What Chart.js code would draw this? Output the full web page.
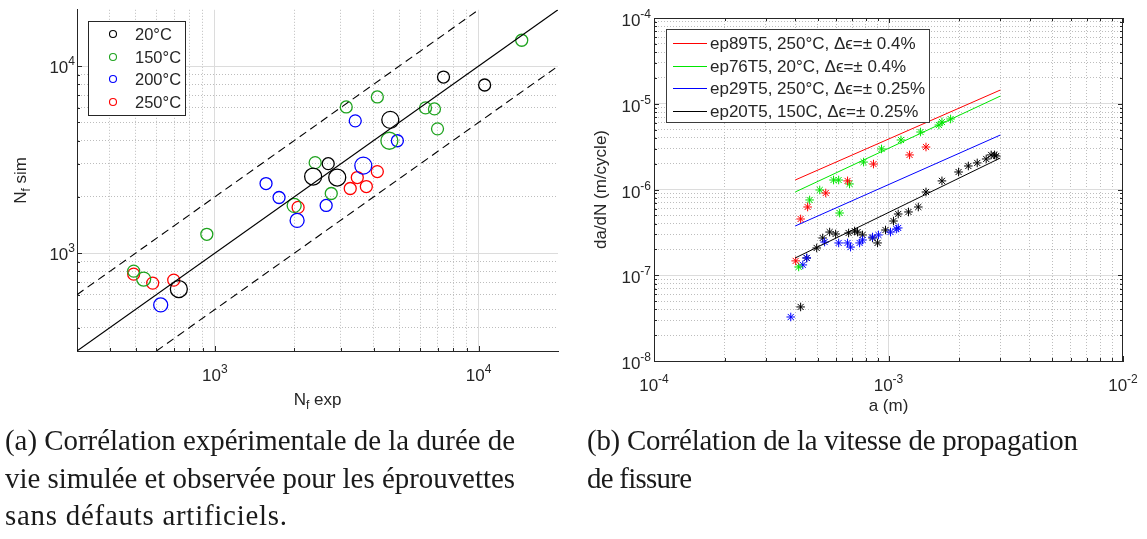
<!DOCTYPE html>
<html><head><meta charset="utf-8">
<script src="https://cdn.jsdelivr.net/npm/chart.js@4/dist/chart.umd.min.js"></script>
<style>
html,body{margin:0;padding:0;background:#fff;}
#wrap{position:relative;width:1147px;height:539px;overflow:hidden;background:#fff;}
canvas{position:absolute;left:0;top:0;}
.cap{position:absolute;font-family:"Liberation Serif","DejaVu Serif",serif;color:#1a1a1a;white-space:nowrap;line-height:1;}
</style></head><body>
<div id="wrap">
<canvas id="c1" width="1147" height="539"></canvas>
<canvas id="c2" width="1147" height="539"></canvas>
<div class="cap" data-x="5" data-base="452" data-w="510">(a) Corrélation expérimentale de la durée de</div>
<div class="cap" data-x="5" data-base="490" data-w="510">vie simulée et observée pour les éprouvettes</div>
<div class="cap" data-x="5" data-base="527" data-w="282">sans défauts artificiels.</div>
<div class="cap" data-x="587" data-base="452" data-w="491">(b) Corrélation de la vitesse de propagation</div>
<div class="cap" data-x="587" data-base="490" data-w="105">de fissure</div>
</div>
<script>
// ---------------- Panel (a) data: N_f exp vs N_f sim ----------------
const T20_exp  = [7360, 10540, 4625, 2690, 2358, 2910, 730];
const T20_sim  = [8740, 7925, 5160, 3010, 2569, 2537, 643];
const T150_exp = [14570, 4130, 3148, 6290, 6800, 6985, 4588, 2400, 2762, 1998, 932, 492, 537];
const T150_sim = [13750, 6840, 6050, 5980, 5905, 4620, 3990, 3048, 2085, 1800, 1262, 802, 727];
const T200_exp = [1563, 1751, 3406, 4920, 3654, 2050, 2642, 623];
const T200_sim = [2357, 1985, 5097, 3990, 2939, 1497, 1800, 529];
const T250_exp = [4130, 3467, 3752, 3260, 2068, 492, 581, 698];
const T250_sim = [2730, 2537, 2271, 2217, 1757, 773, 692, 718];
// reference lines (y = x, y = 2x, y = x/2)
const refMid_x = [300, 20000],  refMid_y = [300, 20000];
const refUp_x  = [300, 10000],  refUp_y  = [600, 20000];
const refLow_x = [600, 20000],  refLow_y = [300, 10000];
const A_X_TICKS = [400,500,600,700,800,900,1000,2000,3000,4000,5000,6000,7000,8000,9000,10000];
const A_Y_TICKS = [400,500,600,700,800,900,1000,2000,3000,4000,5000,6000,7000,8000,9000,10000];
const A_X_LABEL_VALUES = [1000, 10000], A_X_LABEL_EXPS = ['3','4'];
const A_Y_LABEL_VALUES = [1000, 10000], A_Y_LABEL_EXPS = ['3','4'];
const A_LEGEND = ['20°C','150°C','200°C','250°C'];

// ---------------- Panel (b) data: da/dN vs a ----------------
const ep89_a    = [4.02e-4, 4.22e-4, 4.52e-4, 5.40e-4, 6.69e-4, 8.63e-4, 1.23e-3, 1.445e-3];
const ep89_dadN = [1.47e-7, 4.53e-7, 6.25e-7, 9.10e-7, 1.26e-6, 1.98e-6, 2.53e-6, 3.13e-6];
const ep76_a    = [4.14e-4, 4.61e-4, 5.09e-4, 5.83e-4, 6.13e-4, 6.82e-4, 6.19e-4, 7.83e-4, 9.34e-4, 1.13e-3, 1.37e-3, 1.64e-3, 1.69e-3, 1.84e-3];
const ep76_dadN = [1.25e-7, 7.55e-7, 9.87e-7, 1.29e-6, 1.29e-6, 1.16e-6, 5.32e-7, 2.09e-6, 2.97e-6, 3.78e-6, 4.68e-6, 5.65e-6, 6.13e-6, 6.64e-6];
const ep29_a    = [3.83e-4, 4.31e-4, 4.48e-4, 5.34e-4, 6.13e-4, 6.69e-4, 6.89e-4, 7.53e-4, 7.75e-4, 8.55e-4, 9.06e-4, 1.02e-3, 1.08e-3, 1.10e-3];
const ep29_dadN = [3.26e-8, 1.32e-7, 1.59e-7, 2.44e-7, 2.38e-7, 2.38e-7, 2.13e-7, 2.38e-7, 2.58e-7, 2.79e-7, 2.95e-7, 3.19e-7, 3.46e-7, 3.56e-7];
const ep20_a    = [4.22e-4, 4.48e-4, 4.94e-4, 5.24e-4, 5.61e-4, 5.95e-4, 6.76e-4, 7.17e-4, 7.38e-4, 7.75e-4, 8.55e-4, 8.98e-4, 9.71e-4, 1.05e-3, 1.10e-3, 1.217e-3, 1.34e-3, 1.445e-3, 1.69e-3, 1.99e-3, 2.19e-3, 2.39e-3, 2.61e-3, 2.74e-3, 2.83e-3, 2.88e-3];
const ep20_dadN = [4.27e-8, 1.59e-7, 2.08e-7, 2.72e-7, 3.19e-7, 3.03e-7, 3.11e-7, 3.28e-7, 3.19e-7, 2.95e-7, 2.72e-7, 2.38e-7, 3.37e-7, 4.29e-7, 5.18e-7, 5.47e-7, 6.25e-7, 9.35e-7, 1.26e-6, 1.60e-6, 1.88e-6, 2.04e-6, 2.27e-6, 2.53e-6, 2.53e-6, 2.46e-6];
// fitted lines (end points)
const fit_a       = [4e-4, 3e-3];
const fit89_dadN  = [1.29e-6, 1.446e-5];
const fit76_dadN  = [9.35e-7, 1.23e-5];
const fit29_dadN  = [3.75e-7, 4.32e-6];
const fit20_dadN  = [1.59e-7, 2.33e-6];
const B_X_TICKS = [2e-4,3e-4,4e-4,5e-4,6e-4,7e-4,8e-4,9e-4,1e-3,2e-3,3e-3,4e-3,5e-3,6e-3,7e-3,8e-3,9e-3];
const B_Y_TICKS = [2e-8,3e-8,4e-8,5e-8,6e-8,7e-8,8e-8,9e-8,1e-7,2e-7,3e-7,4e-7,5e-7,6e-7,7e-7,8e-7,9e-7,1e-6,2e-6,3e-6,4e-6,5e-6,6e-6,7e-6,8e-6,9e-6,1e-5,2e-5,3e-5,4e-5,5e-5,6e-5,7e-5,8e-5,9e-5];
const B_X_LABEL_VALUES = [1e-4, 1e-3, 1e-2], B_X_LABEL_EXPS = ['-4','-3','-2'];
const B_Y_LABEL_VALUES = [1e-8, 1e-7, 1e-6, 1e-5, 1e-4], B_Y_LABEL_EXPS = ['-8','-7','-6','-5','-4'];
const B_LEGEND = ['ep89T5, 250°C, Δϵ=± 0.4%','ep76T5, 20°C, Δϵ=± 0.4%','ep29T5, 250°C, Δϵ=± 0.25%','ep20T5, 150C, Δϵ=± 0.25%'];

// ---------------- styles ----------------
const SANS = '"Liberation Sans", Arial, Helvetica, sans-serif';
const AX = '#262626';
const GRID_MAJOR = '#dcdcdc', GRID_MINOR = '#bdbdbd';
const A_COLORS = ['#000000', '#1fa31f', '#0000ff', '#ff0000'];
const B_COLORS = ['#ff0000', '#00e600', '#0000ff', '#000000'];
const RS = 6, RL = 8.5, RM = 7;
const R20  = [RS, RS, RL, RS, RL, RL, RL];
const R150 = [RS, RS, RS, RS, RS, RS, RL, RS, RS, RM, RS, RS, RM];
const R200 = [RS, RS, RS, RS, RL, RM, RS, RM];
const R250 = [RS, RS, RS, RS, RS, RS, RS, RS];

const pts = (xs, ys) => xs.map((x, i) => ({x, y: ys[i]}));
const isPow10 = v => Math.abs(Math.log10(v) - Math.round(Math.log10(v))) < 1e-6;

function logScale(min, max, ticks, pos) {
  return {
    type: 'logarithmic', min, max, position: pos,
    afterBuildTicks: s => { s.ticks = ticks.map(v => ({value: v, major: isPow10(v)})); },
    ticks: {display: false},
    grid: {
      drawTicks: false,
      lineWidth: 1,
      color: c => (c.tick && isPow10(c.tick.value)) ? GRID_MAJOR : GRID_MINOR
    },
    border: {
      display: true, color: AX, width: 1,
      dash: c => (c.type === 'tick' && c.tick && !isPow10(c.tick.value)) ? [1, 2] : []
    }
  };
}

function drawPow(ctx, exp, x, y, align, fs) {
  fs = fs || 17;
  const fsS = Math.round(fs * 0.7);
  ctx.save();
  ctx.fillStyle = AX; ctx.textBaseline = 'alphabetic'; ctx.textAlign = 'left';
  ctx.font = fs + 'px ' + SANS; const wb = ctx.measureText('10').width;
  ctx.font = fsS + 'px ' + SANS; const we = ctx.measureText(exp).width;
  const x0 = align === 'center' ? x - (wb + we) / 2 : x - (wb + we);
  ctx.font = fs + 'px ' + SANS; ctx.fillText('10', x0, y);
  ctx.font = fsS + 'px ' + SANS; ctx.fillText(exp, x0 + wb, y - 8);
  ctx.restore();
}

function drawTickMarks(ctx, chart, xs, xLab, ys, yLab, box) {
  const xa = chart.scales.x, ya = chart.scales.y, ca = chart.chartArea;
  ctx.save(); ctx.strokeStyle = AX; ctx.lineWidth = 1;
  ctx.beginPath();
  const allX = xs.concat(xLab), allY = ys.concat(yLab);
  allX.forEach(v => {
    const p = Math.round(xa.getPixelForValue(v)) + 0.5;
    const L = isPow10(v) ? 5 : 3;
    ctx.moveTo(p, ca.bottom); ctx.lineTo(p, ca.bottom - L);
    if (box) { ctx.moveTo(p, ca.top); ctx.lineTo(p, ca.top + L); }
  });
  allY.forEach(v => {
    const p = Math.round(ya.getPixelForValue(v)) + 0.5;
    const L = isPow10(v) ? 5 : 3;
    ctx.moveTo(ca.left, p); ctx.lineTo(ca.left + L, p);
    if (box) { ctx.moveTo(ca.right, p); ctx.lineTo(ca.right - L, p); }
  });
  ctx.stroke();
  if (box) {
    ctx.beginPath();
    ctx.moveTo(ca.left, Math.round(ca.top) + 0.5); ctx.lineTo(ca.right, Math.round(ca.top) + 0.5);
    ctx.moveTo(Math.round(ca.right) - 0.5, ca.top); ctx.lineTo(Math.round(ca.right) - 0.5, ca.bottom);
    ctx.stroke();
  }
  ctx.restore();
}

function drawSubLabel(ctx, parts, cx, cy, rotate) {
  ctx.save(); ctx.fillStyle = AX; ctx.textBaseline = 'alphabetic'; ctx.textAlign = 'left';
  ctx.translate(cx, cy); if (rotate) ctx.rotate(-Math.PI / 2);
  let w = 0;
  parts.forEach(p => { ctx.font = p[1] + 'px ' + SANS; w += ctx.measureText(p[0]).width; });
  let x = -w / 2;
  parts.forEach(p => { ctx.font = p[1] + 'px ' + SANS; ctx.fillText(p[0], x, p[2]); x += ctx.measureText(p[0]).width; });
  ctx.restore();
}

// ---------------- Chart (a) ----------------
const decorA = {
  id: 'decorA',
  afterDraw(chart) {
    const ctx = chart.ctx, xa = chart.scales.x, ya = chart.scales.y, ca = chart.chartArea;
    drawTickMarks(ctx, chart, A_X_TICKS, [], A_Y_TICKS, [], false);
    A_X_LABEL_VALUES.forEach((v, i) => drawPow(ctx, A_X_LABEL_EXPS[i], xa.getPixelForValue(v), ca.bottom + 30, 'center', 17));
    A_Y_LABEL_VALUES.forEach((v, i) => drawPow(ctx, A_Y_LABEL_EXPS[i], ca.left - 2, ya.getPixelForValue(v) + 7, 'right', 17));
    drawSubLabel(ctx, [['N', 17, 0], ['f', 12, 4], [' exp', 17, 0]], (ca.left + ca.right) / 2, 405, false);
    drawSubLabel(ctx, [['N', 17, 0], ['f', 12, 4], [' sim', 17, 0]], 26, (ca.top + ca.bottom) / 2, true);
    ctx.save();
    ctx.fillStyle = '#fff'; ctx.fillRect(88, 21, 98, 95);
    ctx.strokeStyle = AX; ctx.lineWidth = 1; ctx.strokeRect(88.5, 21.5, 97, 94);
    const rows = [34, 57, 79, 102];
    A_LEGEND.forEach((t, i) => {
      ctx.beginPath(); ctx.strokeStyle = A_COLORS[i]; ctx.lineWidth = 1.1;
      ctx.arc(113, rows[i], 3.5, 0, Math.PI * 2); ctx.stroke();
      ctx.fillStyle = AX; ctx.font = '16.5px ' + SANS; ctx.textBaseline = 'middle'; ctx.textAlign = 'left';
      ctx.fillText(t, 135, rows[i] + 1);
    });
    ctx.restore();
  }
};

const circ = (label, xs, ys, color, radii) => ({
  label, data: pts(xs, ys), pointStyle: 'circle', pointRadius: radii,
  pointBorderColor: color, pointBackgroundColor: 'rgba(0,0,0,0)', pointBorderWidth: 1.3, showLine: false
});
const lineDs = (xs, ys, color, dash, w) => ({
  data: pts(xs, ys), showLine: true, pointRadius: 0, borderColor: color, borderWidth: w, borderDash: dash, fill: false
});

new Chart(document.getElementById('c1'), {
  type: 'scatter',
  data: {datasets: [
    lineDs(refMid_x, refMid_y, '#000', [], 1.1),
    lineDs(refUp_x, refUp_y, '#000', [8, 5], 1.1),
    lineDs(refLow_x, refLow_y, '#000', [8, 5], 1.1),
    circ('20°C', T20_exp, T20_sim, A_COLORS[0], R20),
    circ('150°C', T150_exp, T150_sim, A_COLORS[1], R150),
    circ('200°C', T200_exp, T200_sim, A_COLORS[2], R200),
    circ('250°C', T250_exp, T250_sim, A_COLORS[3], R250)
  ]},
  options: {
    responsive: false, animation: false, events: [],
    layout: {padding: {left: 77, top: 9, right: 1147 - 558, bottom: 539 - 351}},
    plugins: {legend: {display: false}, tooltip: {enabled: false}},
    scales: {x: logScale(300, 20000, A_X_TICKS, 'bottom'), y: logScale(300, 20000, A_Y_TICKS, 'left')}
  },
  plugins: [decorA]
});

// ---------------- Chart (b) ----------------
const decorB = {
  id: 'decorB',
  afterDraw(chart) {
    const ctx = chart.ctx, xa = chart.scales.x, ya = chart.scales.y, ca = chart.chartArea;
    drawTickMarks(ctx, chart, B_X_TICKS, B_X_LABEL_VALUES, B_Y_TICKS, B_Y_LABEL_VALUES, true);
    B_X_LABEL_VALUES.forEach((v, i) => drawPow(ctx, B_X_LABEL_EXPS[i], xa.getPixelForValue(v), ca.bottom + 30, 'center', 17));
    B_Y_LABEL_VALUES.forEach((v, i) => drawPow(ctx, B_Y_LABEL_EXPS[i], ca.left - 3, ya.getPixelForValue(v) + 8, 'right', 17));
    drawSubLabel(ctx, [['a (m)', 17, 0]], (ca.left + ca.right) / 2, 411, false);
    drawSubLabel(ctx, [['da/dN (m/cycle)', 17, 0]], 606, (ca.top + ca.bottom) / 2, true);
    ctx.save();
    ctx.fillStyle = '#fff'; ctx.fillRect(666, 29, 264, 94);
    ctx.strokeStyle = '#3c3c3c'; ctx.lineWidth = 1; ctx.strokeRect(666.5, 29.5, 263, 93);
    const rows = [43, 66, 88, 111];
    B_LEGEND.forEach((t, i) => {
      ctx.beginPath(); ctx.strokeStyle = B_COLORS[i]; ctx.lineWidth = 1;
      ctx.moveTo(673, rows[i] + 0.5); ctx.lineTo(707, rows[i] + 0.5); ctx.stroke();
      ctx.fillStyle = AX; ctx.font = '17px ' + SANS; ctx.textBaseline = 'middle'; ctx.textAlign = 'left';
      ctx.fillText(t, 710, rows[i] + 1);
    });
    ctx.restore();
  }
};
const star = (label, xs, ys, color) => ({
  label, data: pts(xs, ys), pointStyle: 'star', pointRadius: 4.3, pointBorderColor: color,
  pointBackgroundColor: color, pointBorderWidth: 1, showLine: false
});
new Chart(document.getElementById('c2'), {
  type: 'scatter',
  data: {datasets: [
    lineDs(fit_a, fit89_dadN, B_COLORS[0], [], 1),
    lineDs(fit_a, fit76_dadN, B_COLORS[1], [], 1),
    lineDs(fit_a, fit29_dadN, B_COLORS[2], [], 1),
    lineDs(fit_a, fit20_dadN, B_COLORS[3], [], 1),
    star('ep89T5', ep89_a, ep89_dadN, B_COLORS[0]),
    star('ep76T5', ep76_a, ep76_dadN, B_COLORS[1]),
    star('ep29T5', ep29_a, ep29_dadN, B_COLORS[2]),
    star('ep20T5', ep20_a, ep20_dadN, B_COLORS[3])
  ]},
  options: {
    responsive: false, animation: false, events: [],
    layout: {padding: {left: 654, top: 18, right: 1147 - 1123, bottom: 539 - 361}},
    plugins: {legend: {display: false}, tooltip: {enabled: false}},
    scales: {x: logScale(1e-4, 1e-2, B_X_TICKS, 'bottom'), y: logScale(1e-8, 1e-4, B_Y_TICKS, 'left')}
  },
  plugins: [decorB]
});

// ---------------- captions ----------------
(function () {
  const caps = Array.from(document.querySelectorAll('.cap'));
  const size = 25;
  caps.forEach(el => { el.style.fontSize = size + 'px'; });
  const first = caps[0];
  const fs = size * (+first.dataset.w) / first.getBoundingClientRect().width;
  caps.forEach(el => {
    el.style.fontSize = fs.toFixed(2) + 'px';
    const w = el.getBoundingClientRect().width;
    const n = el.textContent.length;
    const ls = ((+el.dataset.w) - w) / Math.max(1, n - 1);
    el.style.letterSpacing = ls.toFixed(3) + 'px';
    const asc = fs * 0.891;
    el.style.left = el.dataset.x + 'px';
    el.style.top = (+el.dataset.base - asc) + 'px';
  });
})();
</script>
</body></html>
